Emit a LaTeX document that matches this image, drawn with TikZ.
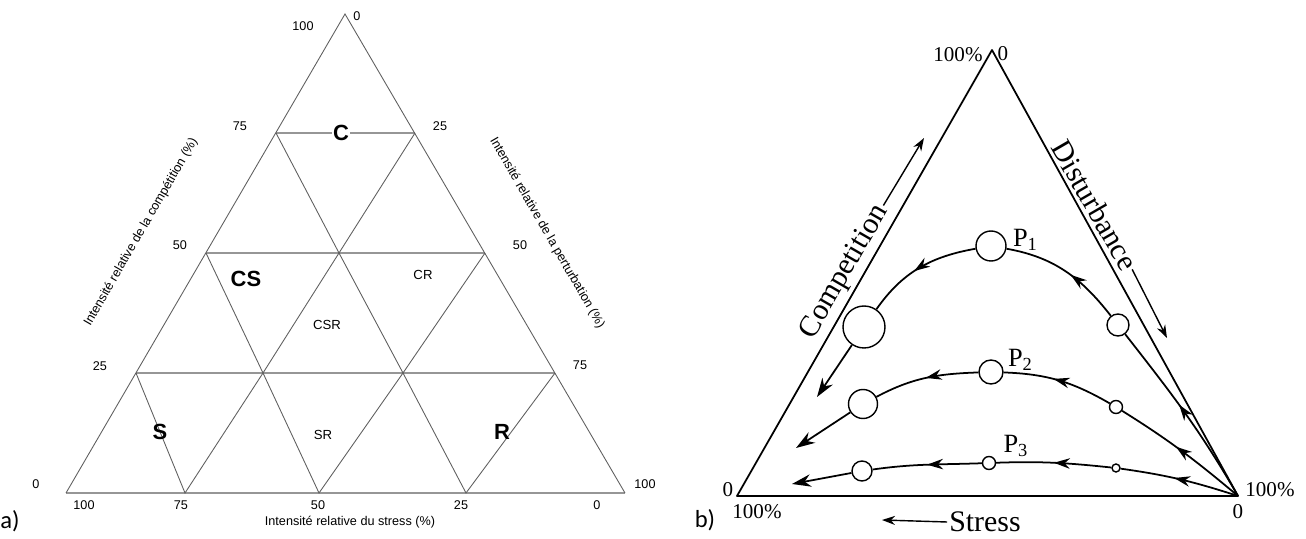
\documentclass[tikz,border=0pt]{standalone}
\usepackage{fontspec}
\setmainfont{Liberation Serif}
\setsansfont{Liberation Sans}
\newfontfamily\capfont{Carlito}
\usetikzlibrary{arrows.meta,positioning,decorations.markings}
\definecolor{grline}{RGB}{95,95,95}
\definecolor{grhz}{RGB}{150,150,150}
\tikzset{
  tri/.style={draw=grline, line width=0.5pt},
  hz/.style={draw=grhz, line width=0.9pt},
  num/.style={font=\sffamily\fontsize{7.2}{8}\selectfont, inner sep=1pt},
  zone/.style={font=\sffamily\fontsize{7.5}{9}\selectfont, inner sep=1pt},
  zonebig/.style={font=\sffamily\bfseries\fontsize{12.5}{14}\selectfont, inner sep=0.5pt},
  rtri/.style={draw=black, line width=1pt, line join=round},
  crv/.style={draw=black, line width=1pt},
  bub/.style={circle, draw=black, line width=0.8pt, fill=white, inner sep=0pt, minimum size=#1},
  midarr/.style={postaction={decorate}, decoration={markings,
    mark=at position #1 with {\arrow{Stealth[length=3.2mm,width=2.1mm]}}}},
  endarr/.style={crv, -{Stealth[length=3.8mm,width=2.5mm]}},
  sarr/.style={line width=0.8pt, -{Stealth[length=2.6mm,width=1.8mm]}},
  rlab/.style={font=\fontsize{12}{14}\selectfont, inner sep=1pt},
  axtxt/.style={font=\fontsize{17}{20}\selectfont, inner sep=1pt},
  plab/.style={font=\fontsize{15}{17}\selectfont, inner sep=0pt},
  panel/.style={font=\capfont\fontsize{14}{16}\selectfont, inner sep=0pt}
}
\begin{document}
\begin{tikzpicture}[x=0.02cm, y=0.02cm]
  \useasboundingbox (0,0) rectangle (1306,538);
  % a) ternary grid
  \coordinate (A) at (345,524);
  \coordinate (BL) at (66,45);
  \coordinate (BR) at (625,45);
  \coordinate (L75) at (276,405);
  \coordinate (R75) at (415,405);
  \coordinate (L50) at (206,285);
  \coordinate (M50) at (339,285);
  \coordinate (R50) at (485,285);
  \coordinate (L25) at (136,165);
  \coordinate (M25a) at (263,165);
  \coordinate (M25b) at (403,165);
  \coordinate (R25) at (555,165);
  \coordinate (B75) at (185,45);
  \coordinate (B50) at (319,45);
  \coordinate (B25) at (466,45);
  \draw[hz] (L75) -- (R75);
  \draw[hz] (L50) -- (R50);
  \draw[hz] (L25) -- (R25);
  \draw[hz] (BL) -- (BR);
  \draw[tri] (BL) -- (A) -- (BR);
  \draw[tri] (L75) -- (M50) -- (R75);
  \draw[tri] (L50) -- (M25a) -- (M50) -- (M25b) -- (R50);
  \draw[tri] (L25) -- (B75) -- (M25a) -- (B50) -- (M25b) -- (B25) -- (R25);
  % zones
  \node[zonebig, fill=white] (zc) at (341,405) {C};
  \node[zonebig] (zs) at (160,106) {S};
  \node[zonebig] (zr) at (502,106) {R};
  \node[zonebig] (zcs) at (246,259) {CS};
  \node[zone] (zcr) at (423,263) {CR};
  \node[zone] (zcsr) at (327,213) {CSR};
  \node[zone] (zsr) at (323,103) {SR};
  % graduations
  \node[num] (n0t) at (357,522) {0};
  \node[num] (n100t) at (303,512) {100};
  \node[num] (n75l) at (240,412) {75};
  \node[num] (n25r) at (440,412) {25};
  \node[num] (n50l) at (180,293) {50};
  \node[num] (n50r) at (520,293) {50};
  \node[num] (n25l) at (100,172) {25};
  \node[num] (n75r) at (580,173) {75};
  \node[num] (n0l) at (36,54) {0};
  \node[num] (n100r) at (645,54) {100};
  \node[num] (b100) at (84,33) {100};
  \node[num] (b75) at (181,33) {75};
  \node[num] (b50) at (318,33) {50};
  \node[num] (b25) at (461,33) {25};
  \node[num] (b0) at (597,33) {0};
  \node[num] (axs) at (350,16) {Intensité relative du stress (\%)};
  \node[num, rotate=60] (axc) at (141,306) {Intensité relative de la compétition (\%)};
  \node[num, rotate=-60] (axp) at (547,305) {Intensité relative de la perturbation (\%)};
  \node[panel] (pa) at (10,17) {a)};

  % b) strategies triangle
  \coordinate (rA) at (992,488);
  \coordinate (rBL) at (737,42);
  \coordinate (rBR) at (1238,42);
  \draw[rtri] (rBL) -- (rA) -- (rBR) -- cycle;
  \node[rlab] (t100) at (958,483) {100\%};
  \node[rlab] (t0) at (1003,484) {0};
  \node[rlab] (l0) at (728,48) {0};
  \node[rlab] (l100) at (757,26) {100\%};
  \node[rlab] (r100) at (1270,48) {100\%};
  \node[rlab] (r0) at (1238,26) {0};
  \node[panel] (pb) at (705,18) {b)};
  % axis names
  \node[axtxt, rotate=60] (comp) at (845,266) {Competition};
  \coordinate (compend) at (924,400);
  \draw[sarr] (comp.east) -- (compend);
  \node[axtxt, rotate=-60] (dist) at (1095,333) {Disturbance};
  \coordinate (distend) at (1167,200);
  \draw[sarr] (dist.east) -- (distend);
  \node[axtxt] (stress) at (985,16) {Stress};
  \coordinate (stressend) at (882,18);
  \draw[sarr] (stress.west) -- (stressend);
  % populations
  \node[bub=4.4mm] (c1r) at (1118,213) {};
  \node[bub=6mm] (pone) at (991,292) {};
  \node[bub=8.4mm] (c1l) at (864,211) {};
  \coordinate (tip1) at (817,141);
  \node[bub=2.6mm] (c2r) at (1116,131) {};
  \node[bub=4.8mm] (ptwo) at (991,166) {};
  \node[bub=5.8mm] (c2l) at (863,134) {};
  \coordinate (tip2) at (796,90);
  \node[bub=1.6mm] (c3r) at (1116,70) {};
  \node[bub=2.6mm] (pthree) at (989,75) {};
  \node[bub=4mm] (c3l) at (862,67) {};
  \coordinate (tip3) at (792,54);
  \node[plab, right=1.2mm of pone, yshift=1.2mm] (lpone) {P\textsubscript{1}};
  \node[plab, right=0.8mm of ptwo, yshift=2.4mm] (lptwo) {P\textsubscript{2}};
  \node[plab, right=1.4mm of pthree, yshift=3.4mm] (lpthree) {P\textsubscript{3}};
  \draw[crv, midarr=0.55] (rBR) to[out=120, in=-52] (c1r);
  \draw[crv, midarr=0.45] (c1r) to[out=128, in=-10] (pone);
  \draw[crv, midarr=0.55] (pone) to[out=190, in=55] (c1l);
  \draw[endarr] (c1l) -- (tip1);
  \draw[crv, midarr=0.55] (rBR) to[out=140, in=-32] (c2r);
  \draw[crv, midarr=0.55] (c2r) to[out=150, in=-2] (ptwo);
  \draw[crv, midarr=0.5] (ptwo) to[out=182, in=28] (c2l);
  \draw[endarr] (c2l) -- (tip2);
  \draw[crv, midarr=0.55] (rBR) to[out=162, in=-8] (c3r);
  \draw[crv, midarr=0.5] (c3r) to[out=174, in=2] (pthree);
  \draw[crv, midarr=0.5] (pthree) to[out=182, in=8] (c3l);
  \draw[endarr] (c3l) -- (tip3);
\end{tikzpicture}
\end{document}
